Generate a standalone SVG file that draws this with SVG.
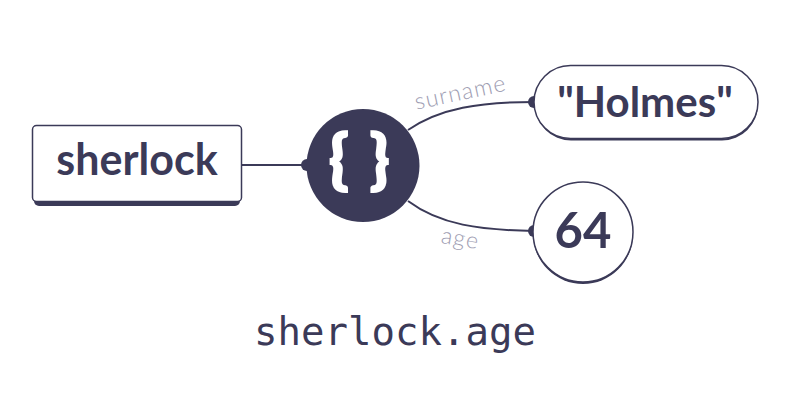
<svg xmlns="http://www.w3.org/2000/svg" width="800" height="400" viewBox="0 0 800 400">
  <style>
    .ink { fill: #3b3a58; }
    .shape { fill: #ffffff; stroke: #3b3a58; stroke-width: 1.5; }
    .shadow { fill: #3b3a58; }
    .conn { fill: none; stroke: #3b3a58; stroke-width: 2; }
    .dot { fill: #3b3a58; }
    .big { font-family: Lato, "Open Sans", sans-serif; font-weight: 700; fill: #3b3a58; text-anchor: middle; }
    .lbl { font-family: Lato, "Open Sans", sans-serif; font-weight: 300; font-size: 23px; fill: #9e9db2; text-anchor: middle; letter-spacing: 1.2px; }
    .mono { font-family: "DejaVu Sans Mono", "Liberation Mono", monospace; font-size: 39px; fill: #3b3a58; text-anchor: middle; }
  </style>
  <rect width="800" height="400" fill="#ffffff"/>

  <g id="connectors">
    <line class="conn" x1="242" y1="165" x2="307" y2="165"/>
    <circle class="dot" cx="307" cy="165" r="6"/>
    <path class="conn" d="M408,130 C440,108 480,102 534,102"/>
    <circle class="dot" cx="534" cy="102" r="6"/>
    <path class="conn" d="M408,201 C440,225 480,230 534,231"/>
    <circle class="dot" cx="534" cy="231" r="6"/>
    <text class="lbl" transform="translate(462,100) rotate(-12)">surname</text>
    <text class="lbl" transform="translate(459,246) rotate(10)">age</text>
  </g>

  <g id="sherlock">
    <rect class="shadow" x="34" y="130" width="206" height="76" rx="5"/>
    <rect class="shape" x="32.5" y="125.5" width="209" height="76" rx="4"/>
    <text class="big" x="137" y="175" font-size="43">sherlock</text>
  </g>

  <g id="object">
    <circle class="ink" cx="363" cy="165.5" r="56.5"/>
    <text x="329" y="182" font-family="Lato, 'Open Sans', sans-serif" font-weight="900" font-size="64" fill="#ffffff" stroke="#ffffff" stroke-width="2" letter-spacing="21">{}</text>
  </g>

  <g id="holmes">
    <rect class="shadow" x="535" y="68" width="223" height="72.5" rx="36"/>
    <rect class="shape" x="534" y="65.5" width="224" height="73" rx="36.5"/>
    <text class="big" x="645" y="117" font-size="42">"Holmes"</text>
  </g>

  <g id="age64">
    <circle class="shadow" cx="583" cy="234" r="50"/>
    <circle class="shape" cx="583" cy="232" r="50"/>
    <text class="big" x="583" y="248" font-size="49">64</text>
  </g>

  <g id="expression">
    <text class="mono" x="395" y="345">sherlock.age</text>
  </g>
</svg>
